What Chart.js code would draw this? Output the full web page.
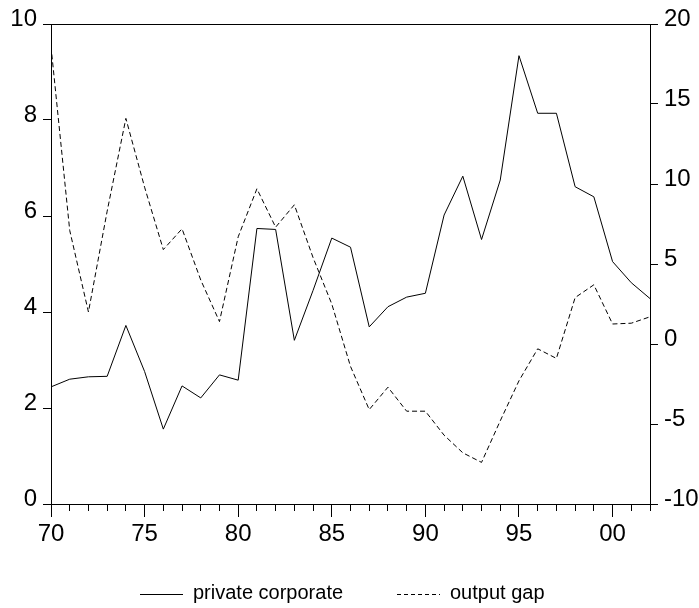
<!DOCTYPE html>
<html>
<head>
<meta charset="utf-8">
<script src="https://cdn.jsdelivr.net/npm/chart.js@4.4.0/dist/chart.umd.min.js"></script>
<style>
html,body{margin:0;padding:0;background:#fff;}
canvas{display:block;}
</style>
</head>
<body>
<canvas id="c" width="699" height="608"></canvas>
<script>
const years = [1970,1971,1972,1973,1974,1975,1976,1977,1978,1979,1980,1981,1982,1983,1984,1985,1986,1987,1988,1989,1990,1991,1992,1993,1994,1995,1996,1997,1998,1999,2000,2001,2002];
const privateCorporate = [2.44,2.60,2.65,2.66,3.72,2.76,1.56,2.46,2.21,2.69,2.58,5.74,5.72,3.41,4.45,5.54,5.35,3.69,4.11,4.31,4.39,6.02,6.83,5.51,6.75,9.34,8.14,8.14,6.61,6.40,5.05,4.61,4.28];
const outputGap = [18.6,7.1,2.0,8.3,14.1,9.8,5.9,7.2,4.0,1.4,6.7,9.7,7.3,8.7,5.4,2.5,-1.4,-4.1,-2.7,-4.2,-4.2,-5.7,-6.8,-7.4,-4.8,-2.3,-0.3,-0.9,2.9,3.7,1.25,1.3,1.7];
const majorYears = [1970,1975,1980,1985,1990,1995,2000];
const xTickLabels = ['70','75','80','85','90','95','00'];
const leftTicks = [0,2,4,6,8,10];
const rightTicks = [-10,-5,0,5,10,15,20];
const seriesNames = ['private corporate','output gap'];

const FONT = 'Liberation Sans, Arial, sans-serif';

const legendPlugin = {
  id: 'customLegend',
  afterDraw(chart) {
    const ctx = chart.ctx;
    const items = [
      {ds: chart.data.datasets[0], x0: 140, x1: 183, tx: 193},
      {ds: chart.data.datasets[1], x0: 397, x1: 440, tx: 450}
    ];
    ctx.save();
    ctx.font = '20px ' + FONT;
    ctx.fillStyle = '#000';
    ctx.textBaseline = 'alphabetic';
    items.forEach(it => {
      ctx.beginPath();
      ctx.strokeStyle = '#000';
      ctx.lineWidth = 1;
      ctx.setLineDash(it.ds.legendDash || []);
      ctx.moveTo(it.x0, 594.5);
      ctx.lineTo(it.x1, 594.5);
      ctx.stroke();
      ctx.setLineDash([]);
      ctx.fillText(it.ds.label, it.tx, 599);
    });
    ctx.restore();
  }
};

new Chart(document.getElementById('c'), {
  type: 'line',
  data: {
    datasets: [
      {
        label: seriesNames[0],
        data: years.map((y, i) => ({x: y, y: privateCorporate[i]})),
        borderColor: '#000',
        borderWidth: 1,
        pointRadius: 0,
        tension: 0,
        xAxisID: 'x',
        yAxisID: 'y',
        legendDash: []
      },
      {
        label: seriesNames[1],
        data: years.map((y, i) => ({x: y, y: outputGap[i]})),
        borderColor: '#000',
        borderWidth: 1,
        borderDash: [5, 3],
        pointRadius: 0,
        tension: 0,
        xAxisID: 'x',
        yAxisID: 'y1',
        legendDash: [4, 3]
      }
    ]
  },
  options: {
    responsive: false,
    animation: false,
    devicePixelRatio: 1,
    layout: {padding: {top: 24, bottom: 54, left: 0, right: 0}},
    plugins: {legend: {display: false}, tooltip: {enabled: false}},
    scales: {
      xm: {
        type: 'linear', position: 'bottom', weight: 0,
        min: years[0], max: years[years.length - 1],
        afterBuildTicks: s => { s.ticks = years.map(v => ({value: v})); },
        afterFit: s => { s.height = 0; },
        ticks: {display: false},
        grid: {drawOnChartArea: false, drawTicks: true, tickLength: 7, color: '#000', tickColor: '#000', lineWidth: 1},
        border: {display: true, color: '#000', width: 1}
      },
      x: {
        type: 'linear', position: 'bottom', weight: 1,
        min: years[0], max: years[years.length - 1],
        afterBuildTicks: s => { s.ticks = majorYears.map(v => ({value: v})); },
        afterFit: s => { s.height = 50; },
        ticks: {
          autoSkip: false, maxRotation: 0, padding: 3,
          color: '#000', font: {family: FONT, size: 24},
          callback: (v, i) => xTickLabels[i]
        },
        grid: {drawOnChartArea: false, drawTicks: true, tickLength: 13, color: '#000', tickColor: '#000', lineWidth: 1},
        border: {display: false}
      },
      xt: {
        type: 'linear', position: 'top',
        min: years[0], max: years[years.length - 1],
        afterFit: s => { s.height = 0; },
        ticks: {display: false},
        grid: {drawOnChartArea: false, drawTicks: false},
        border: {display: true, color: '#000', width: 1}
      },
      y: {
        type: 'linear', position: 'left',
        min: 0, max: 10,
        afterBuildTicks: s => { s.ticks = leftTicks.map(v => ({value: v})); },
        afterFit: s => { s.width = 51; },
        ticks: {padding: 6, labelOffset: -5, color: '#000', font: {family: FONT, size: 24}},
        grid: {drawOnChartArea: false, drawTicks: true, tickLength: 8, color: '#000', tickColor: '#000'},
        border: {display: true, color: '#000', width: 1}
      },
      y1: {
        type: 'linear', position: 'right',
        min: -10, max: 20,
        afterBuildTicks: s => { s.ticks = rightTicks.map(v => ({value: v})); },
        afterFit: s => { s.width = 49; },
        ticks: {padding: 6, labelOffset: -5, color: '#000', font: {family: FONT, size: 24}},
        grid: {drawOnChartArea: false, drawTicks: true, tickLength: 8, color: '#000', tickColor: '#000'},
        border: {display: true, color: '#000', width: 1}
      }
    }
  },
  plugins: [legendPlugin]
});
</script>
</body>
</html>
